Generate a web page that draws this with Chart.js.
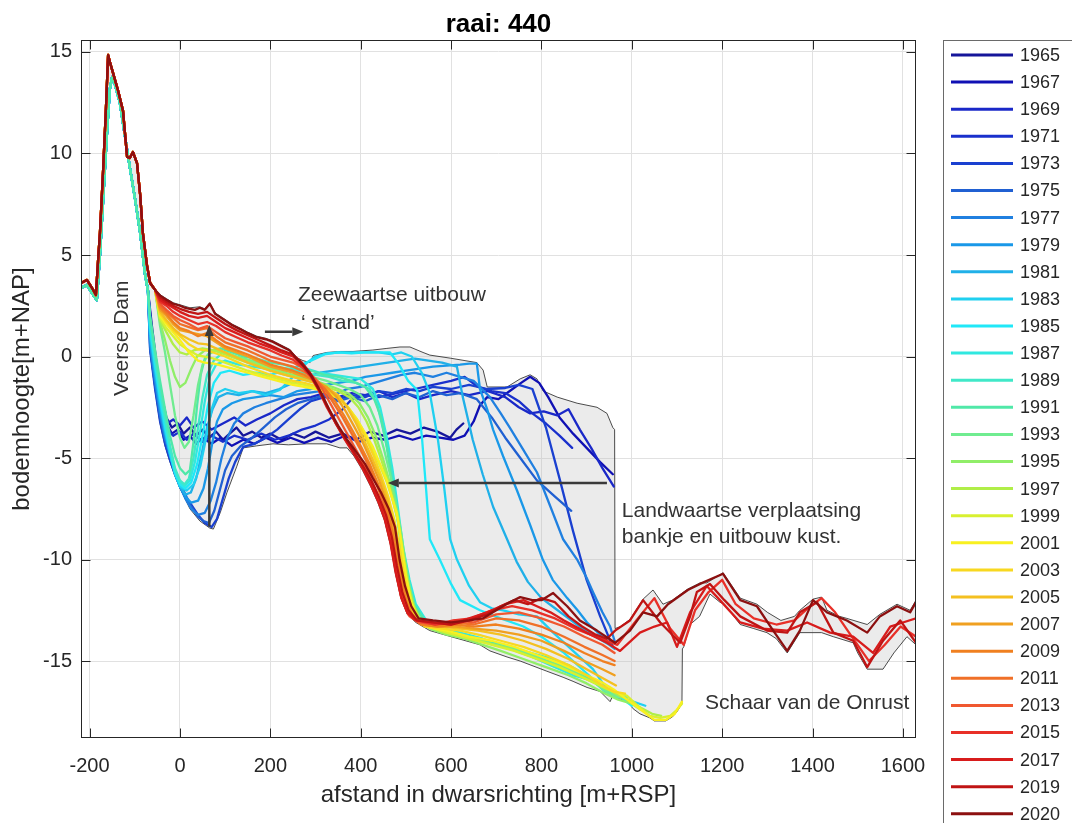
<!DOCTYPE html>
<html>
<head>
  <meta http-equiv="Content-Type" content="text/html" charset="UTF-8" />
  <title>raai: 440</title>
  <script src="https://cdn.jsdelivr.net/npm/chart.js"></script>
  <style>
    body { margin: 0; background: #fff; }
    #wrap { width: 1072px; height: 823px; }
  </style>
</head>
<body>
  <div id="wrap"><canvas id="chart" width="1072" height="823"></canvas></div>

  <script>
    // --- data: [afstand m+RSP, bodemhoogte m+NAP] ---
    const years = [1965, 1967, 1969, 1971, 1973, 1975, 1977, 1979, 1981, 1983, 1985, 1987, 1989, 1991,
                   1993, 1995, 1997, 1999, 2001, 2003, 2005, 2007, 2009, 2011, 2013, 2015, 2017, 2019, 2020];
    const yearColors = ['#16169a', '#1010b4', '#1a28c8', '#1a30cc', '#1a40d0', '#2060d2', '#2080e0', '#1a98e8',
                        '#20b0e8', '#20d0f0', '#20e8f8', '#30e8e0', '#40e8c8', '#50e8a8', '#70ec90', '#90ee68',
                        '#b0ee48', '#d8f030', '#f8f020', '#f8d820', '#f4c020', '#f0a020', '#f08020', '#f07028',
                        '#f05830', '#e83028', '#d81c1c', '#c01414', '#8c1010'];

    // dune (Veerse Dam) part, older and newer surveys
    const duneOld = [[-219,3.37],[-206,3.52],[-192,3.03],[-184,2.78],[-177,5.0],[-170,7.7],[-161,11.2],[-155,13.2],[-150,13.77],[-144,13.4],[-133,12.5],[-122,10.9],[-111,9.33],[-99,7.7],[-88,6.08],[-77,4.0],[-71,3.28]];
    const duneNew = [[-219,3.62],[-206,3.77],[-192,3.28],[-186,3.03],[-181,4.8],[-177,6.1],[-170,9.2],[-164,12.1],[-159,14.85],[-155,14.5],[-148,13.96],[-137,13.1],[-126,12.1],[-117,9.83],[-111,9.78],[-104,10.07],[-95,9.53],[-88,7.95],[-82,6.08],[-73,4.5],[-66,3.62],[-55,3.28]];

    const p1965 = [[-62,1.5],[-51,-0.5],[-40,-2.0],[-30,-3.0],[-18,-3.5],[-5,-3.3],[8,-3.8],[22,-3.5],[36,-3.9],[50,-3.6],[65,-4.0],[80,-3.7],[95,-4.1],[110,-3.8],[125,-3.5],[140,-3.9],[160,-3.7],[180,-4.0],[200,-3.8],[225,-4.1],[250,-3.8],[275,-4.0],[300,-3.7],[330,-4.0],[360,-3.8],[390,-4.1],[420,-3.7],[450,-3.9],[480,-3.6],[510,-3.8],[540,-3.5],[570,-3.7],[598,-4.0],[612,-3.6],[627,-3.3]];
    const p1967 = [[-62,1.2],[-51,-1.0],[-40,-2.5],[-30,-3.3],[-18,-3.8],[-5,-3.6],[8,-4.1],[22,-3.9],[36,-4.3],[50,-4.0],[70,-4.3],[90,-4.0],[115,-4.4],[140,-4.1],[165,-4.3],[190,-4.0],[215,-4.25],[245,-4.0],[275,-4.25],[305,-4.0],[335,-4.2],[365,-3.9],[395,-4.2],[425,-4.0],[455,-4.1],[485,-3.9],[515,-4.1],[545,-3.9],[575,-4.0],[605,-4.1],[630,-3.9],[650,-3.2],[664,-2.4],[680,-2.0],[705,-2.1],[730,-1.7],[755,-1.3],[775,-1.0],[795,-1.3],[815,-2.0],[840,-3.0],[870,-3.8],[900,-4.5],[930,-5.2],[958,-5.8]];
    const p1969 = [[-62,1.0],[-51,-1.2],[-40,-2.6],[-28,-3.3],[-15,-3.1],[0,-3.4],[15,-3.0],[30,-3.5],[50,-3.2],[70,-3.6],[95,-3.3],[120,-3.0],[145,-3.4],[170,-3.1],[200,-2.8],[230,-2.4],[260,-2.1],[290,-2.0],[320,-1.8],[350,-2.0],[380,-1.8],[410,-1.9],[440,-1.7],[470,-2.0],[500,-1.8],[530,-2.1],[560,-1.9],[600,-1.7],[640,-1.9],[680,-1.7],[720,-2.0],[750,-2.5],[775,-2.8],[805,-2.7],[835,-2.9],[860,-2.6],[885,-3.6],[910,-4.5],[935,-5.5],[960,-6.4]];
    const p1971 = [[-62,0.7],[-51,-1.5],[-40,-2.9],[-28,-3.6],[-15,-3.9],[0,-3.7],[15,-4.1],[30,-3.8],[50,-4.2],[70,-3.9],[95,-4.2],[120,-3.9],[150,-4.1],[180,-3.8],[210,-4.1],[240,-3.9],[270,-3.6],[300,-3.4],[330,-3.1],[360,-2.6],[380,-2.1],[410,-1.9],[440,-2.0],[480,-1.8],[520,-1.6],[560,-1.4],[600,-1.2],[630,-1.0],[660,-1.5],[690,-1.7],[720,-1.8],[750,-2.2],[780,-2.8],[810,-3.3],[840,-3.9],[868,-4.5]];
    const p1973 = [[-66,0.3],[-55,-1.6],[-44,-3.2],[-33,-4.3],[-22,-5.1],[-11,-5.8],[0,-6.4],[12,-6.9],[25,-7.3],[40,-7.8],[55,-8.2],[70,-8.4],[82,-8.0],[95,-7.0],[108,-6.0],[122,-5.2],[140,-4.45],[165,-4.3],[190,-4.0],[215,-3.6],[240,-3.1],[265,-2.6],[290,-2.2],[320,-2.0],[350,-2.1],[380,-1.9],[410,-2.0],[440,-1.7],[470,-1.8],[500,-1.6],[530,-1.7],[560,-1.5],[600,-1.6],[640,-1.4],[680,-1.6],[720,-1.55],[750,-1.4],[780,-1.6],[810,-3.5],[840,-6.0],[870,-8.6],[900,-11.0],[930,-12.8],[958,-14.3]];
    const p1975 = [[-66,0.4],[-55,-1.4],[-44,-3.0],[-33,-4.1],[-22,-4.9],[-11,-5.6],[0,-6.2],[12,-6.8],[25,-7.4],[40,-7.9],[52,-8.1],[64,-8.2],[76,-7.6],[88,-6.6],[100,-5.6],[115,-4.9],[135,-4.4],[160,-4.0],[185,-3.5],[210,-3.0],[235,-2.6],[260,-2.3],[290,-2.1],[320,-1.9],[350,-2.2],[380,-2.0],[410,-2.2],[440,-1.9],[470,-2.1],[500,-1.8],[530,-2.0],[560,-1.7],[590,-1.9],[620,-1.8],[657,-2.1],[690,-3.0],[720,-4.0],[750,-4.9],[790,-6.1],[830,-6.9],[866,-7.6]];
    const p1977 = [[-66,0.6],[-55,-1.2],[-44,-2.8],[-33,-4.0],[-22,-4.9],[-11,-5.7],[0,-6.4],[12,-7.0],[25,-7.5],[40,-7.8],[55,-7.7],[68,-7.1],[80,-6.2],[92,-5.0],[105,-4.0],[120,-3.3],[140,-2.8],[165,-2.5],[190,-2.3],[220,-2.1],[250,-1.9],[280,-1.8],[310,-1.7],[340,-1.9],[370,-1.6],[400,-1.5],[430,-1.3],[460,-1.1],[490,-0.9],[520,-0.8],[560,-1.0],[590,-0.8],[620,-1.0],[650,-1.2],[686,-2.0],[710,-2.8],[730,-3.5],[760,-4.6],[790,-5.7],[820,-7.4],[848,-9.0],[879,-10.0],[900,-10.9],[914,-11.6],[935,-12.6],[952,-13.3],[962,-14.0]];
    const p1979 = [[-66,0.8],[-55,-1.0],[-44,-2.6],[-33,-3.8],[-22,-4.8],[-11,-5.7],[0,-6.4],[12,-6.9],[25,-7.2],[40,-7.1],[52,-6.5],[62,-5.5],[72,-4.2],[82,-3.2],[95,-2.6],[115,-2.3],[140,-2.1],[170,-2.0],[200,-1.9],[230,-2.0],[260,-1.7],[290,-1.6],[320,-1.4],[350,-1.3],[380,-1.2],[410,-1.0],[440,-0.9],[470,-0.8],[500,-0.7],[530,-0.6],[560,-0.5],[590,-0.45],[620,-0.4],[640,-0.35],[657,-0.35],[664,-1.6],[680,-2.6],[693,-3.6],[715,-4.9],[746,-6.6],[775,-8.3],[803,-10.0],[825,-11.0],[857,-11.9],[880,-12.5],[901,-13.1],[925,-13.6],[945,-14.0],[958,-14.3]];
    const p1981 = [[-66,1.0],[-55,-0.8],[-44,-2.4],[-33,-3.7],[-22,-4.8],[-11,-5.7],[0,-6.4],[12,-6.8],[24,-6.7],[36,-6.0],[48,-4.8],[60,-3.5],[72,-2.6],[85,-2.0],[105,-1.8],[130,-1.9],[160,-1.7],[190,-1.8],[220,-1.6],[250,-1.3],[280,-1.0],[310,-0.8],[340,-0.7],[370,-0.6],[400,-0.5],[430,-0.4],[460,-0.3],[490,-0.2],[520,-0.1],[550,-0.2],[580,-0.3],[613,-0.5],[626,-2.0],[648,-4.1],[670,-5.8],[693,-7.4],[724,-9.0],[745,-10.1],[770,-11.1],[800,-11.9],[830,-12.4],[860,-12.9],[890,-13.4],[920,-13.8],[950,-14.2],[962,-14.4]];
    const p1983 = [[-66,1.2],[-55,-0.6],[-44,-2.2],[-33,-3.6],[-22,-4.8],[-11,-5.8],[0,-6.4],[15,-6.6],[30,-6.3],[45,-5.4],[58,-4.0],[70,-2.6],[82,-1.8],[100,-1.6],[130,-1.8],[160,-1.7],[190,-1.9],[221,-1.65],[250,-1.0],[281,-0.3],[300,0.0],[325,0.15],[360,0.2],[400,0.2],[440,0.2],[470,0.1],[490,0.2],[513,0.0],[535,-0.8],[553,-1.8],[571,-4.1],[585,-6.5],[598,-9.0],[613,-10.0],[640,-11.3],[664,-12.1],[690,-12.4],[715,-12.5],[750,-12.7],[790,-12.8],[826,-13.6],[870,-14.5],[914,-15.4],[952,-16.6],[990,-16.9],[1030,-17.2]];
    const p1985 = [[-66,1.4],[-55,-0.4],[-44,-2.0],[-33,-3.4],[-22,-4.6],[-11,-5.7],[0,-6.3],[12,-6.5],[25,-6.2],[38,-5.3],[50,-3.9],[62,-2.4],[75,-1.3],[90,-0.8],[110,-0.7],[140,-0.9],[170,-0.8],[200,-0.9],[230,-0.7],[260,-0.5],[290,-0.2],[320,0.1],[350,0.2],[380,0.15],[410,0.2],[440,0.2],[465,0.2],[485,-0.4],[505,-1.2],[525,-1.65],[536,-4.1],[545,-6.6],[553,-9.0],[575,-10.0],[600,-11.2],[620,-12.0],[664,-12.5],[710,-12.9],[760,-13.3],[800,-13.8],[850,-14.6],[900,-15.6],[940,-16.4],[970,-16.7],[1000,-17.2]];
    const p1987 = [[-66,1.6],[-55,-0.2],[-44,-1.8],[-33,-3.2],[-22,-4.5],[-11,-5.6],[0,-6.2],[10,-6.4],[22,-6.1],[33,-5.2],[44,-3.8],[55,-2.2],[66,-1.0],[80,-0.4],[100,-0.2],[130,-0.4],[160,-0.5],[190,-0.6],[220,-0.6],[250,-0.7],[280,-0.6],[310,-0.8],[340,-0.9],[370,-1.0],[400,-1.1],[427,-1.6],[443,-2.5],[458,-4.0],[470,-5.5],[482,-7.4],[494,-9.4],[508,-11.0],[522,-12.2],[545,-13.0],[580,-13.4],[620,-13.6],[670,-13.9],[720,-14.3],[770,-14.7],[820,-15.2],[870,-15.7],[920,-16.0],[960,-16.6],[990,-16.8]];
    const p1989 = [[-66,1.8],[-55,0.0],[-44,-1.6],[-33,-3.0],[-22,-4.4],[-11,-5.5],[0,-6.1],[10,-6.3],[20,-6.0],[30,-5.0],[40,-3.5],[50,-2.0],[60,-0.9],[75,-0.2],[95,0.2],[120,0.0],[150,-0.2],[180,-0.4],[210,-0.5],[240,-0.6],[270,-0.8],[300,-0.9],[330,-1.0],[360,-1.2],[390,-1.3],[420,-1.6],[437,-2.4],[452,-3.8],[465,-5.2],[477,-7.0],[489,-9.0],[502,-10.8],[516,-12.1],[540,-13.0],[570,-13.3],[610,-13.6],[660,-13.9],[710,-14.2],[760,-14.5],[810,-14.8],[860,-15.2],[900,-15.7],[940,-16.5],[970,-16.8]];
    const p1991 = [[-66,2.0],[-55,0.3],[-44,-1.2],[-33,-2.6],[-22,-3.9],[-11,-4.9],[0,-5.5],[12,-5.8],[22,-5.6],[30,-4.2],[38,-2.4],[46,-0.9],[55,-0.1],[70,0.3],[90,0.4],[115,0.2],[140,0.0],[170,-0.1],[200,-0.3],[230,-0.4],[260,-0.6],[290,-0.7],[320,-0.9],[350,-1.0],[380,-1.2],[410,-1.5],[430,-2.1],[445,-3.0],[458,-4.5],[468,-6.0],[480,-7.8],[492,-9.7],[505,-11.2],[520,-12.3],[545,-13.1],[580,-13.4],[620,-13.7],[670,-14.0],[720,-14.3],[770,-14.6],[820,-14.9],[870,-15.4],[910,-15.9],[950,-16.6]];
    const p1993 = [[-44,1.5],[-33,0.2],[-22,-1.4],[-11,-2.9],[0,-4.0],[10,-4.5],[20,-4.2],[30,-2.9],[40,-1.4],[50,-0.4],[62,0.1],[80,0.3],[100,0.2],[125,0.0],[150,-0.15],[175,-0.3],[200,-0.45],[225,-0.6],[250,-0.75],[275,-0.9],[300,-1.05],[325,-1.2],[350,-1.4],[375,-1.6],[400,-1.9],[420,-2.5],[437,-3.4],[452,-4.6],[466,-5.9],[478,-7.2],[489,-8.6],[499,-10.1],[509,-11.4],[520,-12.4],[536,-13.1],[556,-13.4],[580,-13.6],[620,-13.8],[660,-14.0],[700,-14.2],[740,-14.4],[790,-14.8],[840,-15.2],[880,-15.6],[920,-16.1],[950,-16.6],[975,-16.8]];
    const p1995 = [[-44,1.7],[-33,0.8],[-22,-0.2],[-11,-1.0],[0,-1.5],[12,-1.3],[25,-0.6],[38,0.0],[55,0.3],[75,0.3],[100,0.2],[125,0.0],[150,-0.2],[175,-0.4],[200,-0.6],[225,-0.75],[250,-0.9],[275,-1.05],[300,-1.2],[325,-1.4],[350,-1.6],[375,-1.85],[397,-2.3],[416,-3.0],[433,-3.9],[449,-5.0],[463,-6.1],[476,-7.3],[487,-8.5],[497,-10.0],[507,-11.3],[518,-12.3],[533,-13.0],[553,-13.4],[590,-13.7],[630,-13.9],[670,-14.2],[710,-14.5],[760,-14.9],[810,-15.3],[860,-15.7],[900,-16.1],[940,-16.6],[970,-16.9],[1000,-17.1],[1020,-17.4]];
    const p1997 = [[-44,1.8],[-30,1.2],[-15,0.6],[0,0.2],[15,0.1],[30,0.3],[50,0.4],[75,0.3],[100,0.1],[125,-0.1],[150,-0.3],[175,-0.5],[200,-0.7],[225,-0.85],[250,-1.0],[275,-1.15],[300,-1.3],[325,-1.5],[350,-1.7],[375,-2.0],[395,-2.5],[413,-3.2],[430,-4.1],[446,-5.1],[460,-6.1],[473,-7.2],[484,-8.3],[494,-9.8],[504,-11.2],[515,-12.2],[530,-12.9],[550,-13.3],[590,-13.6],[630,-13.8],[680,-14.1],[730,-14.4],[780,-14.8],[830,-15.2],[880,-15.7],[920,-16.1],[955,-16.5],[990,-16.9],[1020,-17.3],[1045,-17.6],[1065,-17.7]];
    const p1999 = [[-44,1.9],[-30,1.4],[-15,1.0],[0,0.6],[20,0.3],[40,0.05],[55,0.0],[75,-0.1],[100,-0.3],[125,-0.5],[150,-0.7],[175,-0.85],[200,-1.0],[225,-1.15],[250,-1.3],[275,-1.4],[300,-1.55],[325,-1.75],[350,-2.0],[372,-2.5],[392,-3.1],[410,-3.8],[427,-4.6],[443,-5.4],[458,-6.2],[471,-7.1],[482,-8.0],[492,-9.5],[502,-11.0],[513,-12.1],[528,-12.9],[548,-13.3],[590,-13.6],[640,-13.9],[690,-14.2],[740,-14.5],[790,-14.9],[840,-15.3],[890,-15.8],[930,-16.2],[958,-16.5],[989,-16.7],[1018,-17.3],[1040,-17.7],[1063,-17.8],[1085,-17.7],[1100,-17.4],[1111,-17.1]];
    const p2001 = [[-44,2.0],[-30,1.6],[-15,1.2],[0,0.8],[20,0.2],[40,-0.2],[55,-0.3],[75,-0.35],[100,-0.5],[125,-0.65],[150,-0.8],[175,-0.95],[200,-1.1],[225,-1.25],[250,-1.4],[275,-1.5],[300,-1.6],[325,-1.8],[354,-2.1],[375,-2.6],[392,-3.1],[410,-3.8],[427,-4.45],[443,-5.3],[458,-6.1],[470,-7.0],[480,-7.7],[490,-9.2],[500,-10.8],[511,-12.0],[525,-12.9],[545,-13.3],[590,-13.5],[640,-13.8],[690,-14.0],[740,-14.3],[790,-14.7],[840,-15.1],[890,-15.6],[930,-16.0],[960,-16.4],[990,-16.9],[1020,-17.4],[1050,-17.9],[1075,-17.9],[1095,-17.6],[1111,-17.0]];
    const p2003 = [[-44,2.1],[-30,1.7],[-15,1.3],[0,1.0],[20,0.6],[40,0.35],[60,0.3],[80,0.15],[100,0.0],[125,-0.25],[150,-0.5],[175,-0.7],[200,-0.9],[225,-1.05],[250,-1.2],[275,-1.3],[300,-1.45],[325,-1.65],[350,-1.95],[372,-2.5],[392,-3.2],[411,-4.0],[429,-4.9],[446,-5.9],[461,-6.9],[474,-8.0],[486,-9.4],[497,-10.9],[508,-12.1],[522,-12.9],[542,-13.3],[580,-13.4],[620,-13.5],[660,-13.7],[710,-14.0],[760,-14.3],[810,-14.7],[860,-15.2],[900,-15.7],[935,-16.2],[960,-16.5],[985,-16.6]];
    const p2005 = [[-44,2.2],[-30,1.8],[-15,1.4],[0,1.1],[20,0.85],[40,0.65],[60,0.6],[80,0.4],[100,0.2],[125,-0.05],[150,-0.3],[175,-0.5],[200,-0.7],[225,-0.85],[250,-1.0],[275,-1.15],[300,-1.3],[325,-1.55],[350,-1.9],[370,-2.5],[390,-3.3],[409,-4.2],[427,-5.1],[444,-6.0],[459,-7.0],[472,-8.2],[484,-9.6],[495,-11.0],[506,-12.2],[520,-12.9],[540,-13.2],[580,-13.3],[620,-13.4],[660,-13.5],[710,-13.7],[760,-14.0],[810,-14.4],[860,-14.9],[900,-15.4],[940,-15.9],[965,-16.2]];
    const p2007 = [[-44,2.3],[-30,2.0],[-15,1.6],[0,1.3],[20,1.2],[40,1.1],[60,1.0],[80,0.7],[100,0.4],[125,0.2],[150,0.0],[175,-0.25],[200,-0.5],[225,-0.65],[250,-0.8],[275,-1.0],[300,-1.2],[325,-1.5],[347,-2.0],[367,-2.7],[387,-3.5],[406,-4.3],[424,-5.2],[441,-6.1],[456,-7.1],[469,-8.2],[481,-9.6],[492,-11.0],[503,-12.1],[517,-12.9],[536,-13.2],[570,-13.3],[610,-13.3],[650,-13.4],[700,-13.5],[750,-13.7],[800,-14.0],[850,-14.5],[895,-15.0],[935,-15.4],[962,-15.7]];
    const p2009 = [[-44,2.4],[-30,2.1],[-15,1.7],[0,1.4],[20,1.25],[40,1.0],[60,1.15],[80,0.8],[100,0.5],[125,0.3],[150,0.1],[175,-0.15],[200,-0.4],[225,-0.55],[250,-0.7],[275,-0.9],[300,-1.2],[322,-1.6],[343,-2.2],[363,-2.9],[383,-3.7],[402,-4.5],[420,-5.3],[437,-6.2],[452,-7.1],[466,-8.2],[478,-9.5],[489,-10.9],[500,-12.0],[514,-12.8],[533,-13.2],[570,-13.3],[610,-13.2],[650,-13.3],[700,-13.2],[750,-13.4],[800,-13.7],[850,-14.1],[895,-14.6],[935,-15.0],[962,-15.2]];
    const p2011 = [[-44,2.5],[-30,2.2],[-15,1.9],[0,1.6],[20,1.45],[40,1.3],[60,1.4],[80,1.0],[100,0.7],[125,0.5],[150,0.3],[175,0.05],[200,-0.2],[225,-0.35],[250,-0.5],[275,-0.75],[300,-1.1],[320,-1.6],[340,-2.3],[360,-3.0],[380,-3.8],[400,-4.6],[418,-5.4],[435,-6.3],[450,-7.2],[463,-8.3],[475,-9.6],[486,-11.0],[497,-12.1],[511,-12.8],[530,-13.1],[570,-13.2],[610,-13.1],[650,-13.2],[700,-12.9],[750,-13.0],[800,-13.3],[850,-13.8],[895,-14.3],[935,-14.7],[962,-15.0]];
    const p2013 = [[-44,2.6],[-30,2.3],[-15,2.0],[0,1.8],[20,1.6],[40,1.35],[60,1.5],[80,1.2],[100,0.9],[125,0.7],[150,0.5],[175,0.25],[200,0.0],[225,-0.15],[250,-0.3],[275,-0.6],[295,-1.0],[315,-1.6],[335,-2.4],[355,-3.2],[375,-4.0],[395,-4.8],[413,-5.6],[430,-6.4],[446,-7.3],[460,-8.4],[472,-9.7],[483,-11.0],[494,-12.1],[508,-12.8],[528,-13.1],[570,-13.2],[610,-13.0],[650,-13.1],[700,-12.7],[750,-12.6],[800,-12.9],[850,-13.3],[895,-13.8],[935,-14.2],[962,-14.6]];
    const p2015 = [[-44,2.7],[-30,2.5],[-15,2.2],[0,2.0],[20,1.8],[40,1.6],[60,1.7],[80,1.5],[100,1.2],[125,0.95],[150,0.7],[175,0.5],[200,0.3],[225,0.05],[250,-0.15],[270,-0.5],[290,-1.0],[308,-1.7],[327,-2.5],[346,-3.3],[366,-4.1],[386,-4.8],[405,-5.5],[423,-6.3],[440,-7.1],[455,-8.1],[468,-9.3],[479,-10.7],[490,-11.9],[505,-12.7],[524,-13.0],[565,-13.2],[605,-13.0],[645,-12.9],[690,-12.5],[735,-12.3],[780,-12.5],[830,-12.9],[875,-13.4],[920,-13.8],[968,-14.2],[1010,-13.0],[1050,-11.9],[1085,-13.4],[1115,-14.2],[1140,-12.5],[1170,-11.6],[1200,-11.0],[1230,-12.2],[1270,-12.9],[1320,-13.2],[1360,-13.0],[1390,-12.4],[1420,-11.9],[1450,-12.6],[1490,-13.9],[1525,-15.0],[1560,-14.2],[1595,-13.3],[1629,-13.8]];
    const p2017 = [[-44,2.8],[-30,2.6],[-15,2.4],[0,2.2],[20,2.0],[40,1.9],[60,2.0],[80,1.7],[100,1.4],[125,1.15],[150,0.9],[175,0.65],[200,0.45],[225,0.2],[250,0.0],[270,-0.4],[288,-0.9],[306,-1.6],[325,-2.5],[345,-3.3],[365,-4.1],[385,-4.8],[404,-5.5],[422,-6.3],[438,-7.1],[453,-8.0],[466,-9.2],[477,-10.6],[489,-11.8],[503,-12.6],[522,-13.0],[560,-13.1],[600,-13.2],[640,-12.9],[680,-12.6],[720,-12.2],[760,-12.0],[790,-12.3],[820,-12.6],[850,-13.0],[900,-13.6],[945,-14.1],[974,-14.5],[1018,-13.6],[1050,-13.3],[1078,-13.1],[1100,-14.3],[1129,-12.6],[1166,-11.3],[1195,-12.0],[1240,-13.1],[1290,-13.4],[1344,-13.5],[1388,-13.1],[1439,-13.6],[1490,-13.8],[1534,-14.6],[1572,-13.3],[1600,-13.1],[1629,-12.9]];
    const p2019 = [[-44,2.9],[-30,2.7],[-15,2.5],[0,2.35],[20,2.2],[40,2.1],[60,2.2],[80,1.9],[100,1.6],[125,1.3],[150,1.05],[175,0.8],[200,0.55],[225,0.3],[250,0.1],[270,-0.3],[288,-0.8],[306,-1.5],[325,-2.4],[345,-3.3],[365,-4.0],[385,-4.7],[405,-5.4],[423,-6.1],[440,-6.9],[456,-7.8],[469,-8.9],[480,-10.3],[492,-11.6],[506,-12.5],[525,-13.0],[560,-13.1],[600,-13.2],[640,-13.0],[680,-12.7],[710,-12.3],[740,-12.0],[770,-12.2],[800,-11.9],[830,-12.1],[860,-12.8],[890,-13.3],[920,-13.7],[945,-13.9],[963,-13.5],[996,-13.0],[1025,-12.0],[1063,-13.1],[1107,-14.1],[1129,-12.8],[1144,-11.6],[1173,-11.2],[1205,-12.0],[1240,-12.8],[1299,-13.5],[1344,-13.6],[1372,-12.6],[1410,-12.1],[1446,-13.6],[1490,-14.0],[1521,-15.3],[1556,-14.0],[1594,-13.0],[1629,-14.1]];
    const p2020 = [[-44,3.0],[-30,2.8],[-15,2.6],[0,2.5],[11,2.4],[22,2.35],[33,2.3],[44,2.4],[55,2.3],[66,2.6],[78,2.1],[95,1.85],[115,1.55],[133,1.35],[150,1.15],[170,0.95],[190,0.85],[206,0.72],[225,0.5],[243,0.3],[258,-0.1],[275,-0.5],[292,-1.0],[310,-1.7],[330,-2.6],[350,-3.4],[370,-4.1],[390,-4.7],[410,-5.3],[427,-6.0],[445,-6.7],[462,-7.5],[476,-8.4],[486,-10.0],[498,-11.3],[512,-12.3],[528,-12.9],[560,-13.0],[600,-13.1],[640,-13.0],[670,-12.9],[700,-12.5],[730,-12.1],[753,-11.85],[780,-12.0],[800,-12.0],[826,-11.65],[857,-12.3],[885,-13.0],[923,-13.5],[963,-14.1],[996,-13.5],[1025,-12.6],[1056,-12.8],[1080,-12.2],[1124,-11.5],[1151,-11.2],[1202,-10.7],[1240,-12.0],[1277,-12.3],[1310,-13.4],[1344,-14.5],[1372,-13.5],[1401,-12.0],[1432,-12.6],[1476,-13.0],[1521,-13.6],[1549,-12.8],[1587,-12.3],[1616,-12.6],[1629,-12.1]];

    const profiles = [p1965, p1967, p1969, p1971, p1973, p1975, p1977, p1979, p1981, p1983, p1985, p1987, p1989, p1991,
                      p1993, p1995, p1997, p1999, p2001, p2003, p2005, p2007, p2009, p2011, p2013, p2015, p2017, p2019, p2020];

    // grey band: highest and lowest bed level of all surveys
    const envUpper = [[-219,3.65],[-206,3.8],[-192,3.3],[-186,3.05],[-181,4.8],[-177,6.1],[-170,9.2],[-164,12.1],[-159,14.9],[-155,14.5],[-148,14.0],[-137,13.1],[-126,12.1],[-117,9.85],[-111,9.8],[-104,10.1],[-95,9.55],[-88,7.95],[-82,6.1],[-73,4.5],[-66,3.62],[-55,3.3],[-44,3.05],[-30,2.85],[-15,2.65],[0,2.55],[22,2.4],[44,2.45],[55,2.35],[66,2.65],[78,2.15],[95,1.9],[115,1.6],[133,1.4],[150,1.2],[170,1.0],[190,0.9],[206,0.77],[225,0.55],[243,0.35],[258,-0.05],[272,-0.2],[288,-0.3],[295,0.05],[325,0.2],[355,0.25],[383,0.25],[427,0.32],[458,0.4],[487,0.47],[509,0.47],[538,0.2],[553,0.07],[598,-0.08],[657,-0.3],[671,-0.67],[680,-1.5],[724,-1.5],[753,-1.1],[775,-0.9],[790,-1.1],[804,-1.7],[835,-2.0],[879,-2.3],[923,-2.5],[945,-2.8],[958,-3.5],[962,-3.6],[963,-13.4],[975,-13.3],[996,-12.95],[1025,-11.95],[1047,-11.5],[1069,-12.2],[1090,-12.0],[1124,-11.45],[1151,-11.15],[1166,-11.15],[1202,-10.65],[1240,-11.9],[1277,-12.2],[1300,-12.6],[1330,-13.0],[1360,-12.8],[1372,-12.5],[1401,-11.95],[1420,-11.85],[1432,-12.5],[1460,-12.8],[1476,-12.9],[1521,-13.2],[1549,-12.7],[1587,-12.2],[1616,-12.5],[1629,-12.0]];
    const envLower = [[1629,-14.2],[1609,-13.8],[1580,-14.6],[1556,-15.4],[1521,-15.4],[1500,-14.6],[1490,-14.1],[1446,-13.8],[1420,-13.6],[1401,-13.6],[1372,-13.6],[1344,-14.6],[1320,-13.9],[1299,-13.6],[1270,-13.4],[1240,-13.2],[1205,-12.2],[1195,-12.1],[1173,-11.7],[1150,-12.8],[1129,-13.2],[1115,-14.3],[1112,-14.4],[1111,-17.1],[1100,-17.5],[1090,-17.75],[1075,-17.95],[1050,-17.95],[1040,-17.8],[1018,-17.6],[1003,-17.35],[989,-16.95],[970,-16.85],[958,-16.7],[952,-17.0],[930,-16.5],[901,-16.3],[870,-16.0],[848,-15.8],[812,-15.5],[753,-15.0],[724,-14.8],[686,-14.5],[664,-14.2],[600,-13.8],[553,-13.5],[522,-13.1],[503,-12.7],[489,-11.9],[477,-10.7],[466,-9.3],[453,-8.1],[438,-7.2],[422,-6.4],[404,-5.6],[385,-4.9],[370,-4.5],[354,-4.5],[325,-4.3],[281,-4.3],[240,-4.35],[206,-4.3],[170,-4.4],[140,-4.5],[126,-5.4],[104,-6.7],[89,-7.7],[74,-8.5],[66,-8.45],[44,-8.1],[22,-7.5],[7,-6.8],[0,-6.5],[-11,-5.9],[-22,-5.2],[-33,-4.4],[-44,-3.3],[-55,-1.7],[-66,0.2],[-71,3.2],[-77,3.95],[-88,6.0],[-99,7.6],[-111,9.25],[-122,10.85],[-133,12.45],[-144,13.35],[-150,13.7],[-155,13.15],[-161,11.15],[-170,7.65],[-177,4.95],[-184,2.72],[-192,2.98],[-206,3.47],[-219,3.32]];

    // annotations, anchored in data units
    const notes = [
      { text: 'Zeewaartse uitbouw', x: 261, y: 3.03 },
      { text: '\u2018 strand\u2019', x: 268, y: 1.66 },
      { text: 'Landwaartse verplaatsing', x: 978, y: -7.61 },
      { text: 'bankje en uitbouw kust.', x: 978, y: -8.89 },
      { text: 'Schaar van de Onrust', x: 1162, y: -17.07 }
    ];
    const damLabel = { text: 'Veerse Dam', x: -128, y: 0.9 };
    const arrows = [
      { from: [65, -8.38], to: [65, 1.55] },
      { from: [188, 1.22], to: [273, 1.22] },
      { from: [945, -6.23], to: [460, -6.23] }
    ];

    const FONT = '"Liberation Sans", Arial, Helvetica, sans-serif';
    const toXY = pts => pts.map(p => ({ x: p[0], y: p[1] }));

    const datasets = [{
      label: 'envelope',
      data: toXY(envUpper.concat(envLower)),
      borderColor: '#202020',
      borderWidth: 0.8,
      backgroundColor: 'rgba(190,190,190,0.30)',
      fill: 'shape',
      order: 100
    }];
    years.forEach((yr, i) => {
      const dune = yr <= 1991 ? duneOld : duneNew;
      datasets.push({
        label: String(yr),
        data: toXY(dune.concat(profiles[i])),
        borderColor: yearColors[i],
        borderWidth: 2.3,
        fill: false,
        order: 50 - i
      });
    });

    function arrow(ctx, x1, y1, x2, y2) {
      const ang = Math.atan2(y2 - y1, x2 - x1);
      const hl = 11, hw = 4.5;
      const bx = x2 - hl * Math.cos(ang), by = y2 - hl * Math.sin(ang);
      ctx.beginPath();
      ctx.moveTo(x1, y1);
      ctx.lineTo(bx, by);
      ctx.stroke();
      ctx.beginPath();
      ctx.moveTo(x2, y2);
      ctx.lineTo(bx + hw * Math.sin(ang), by - hw * Math.cos(ang));
      ctx.lineTo(bx - hw * Math.sin(ang), by + hw * Math.cos(ang));
      ctx.closePath();
      ctx.fill();
    }

    const decor = {
      id: 'decor',
      afterDatasetsDraw(chart) {
        const { ctx, chartArea: a, scales: { x, y } } = chart;
        ctx.save();
        ctx.strokeStyle = '#3a3a3a';
        ctx.fillStyle = '#3a3a3a';
        ctx.lineWidth = 2.5;
        arrows.forEach(ar => arrow(ctx,
          x.getPixelForValue(ar.from[0]), y.getPixelForValue(ar.from[1]),
          x.getPixelForValue(ar.to[0]), y.getPixelForValue(ar.to[1])));

        ctx.fillStyle = '#333333';
        ctx.font = '21px ' + FONT;
        ctx.textAlign = 'left';
        ctx.textBaseline = 'middle';
        notes.forEach(n => ctx.fillText(n.text, x.getPixelForValue(n.x), y.getPixelForValue(n.y)));
        ctx.save();
        ctx.translate(x.getPixelForValue(damLabel.x), y.getPixelForValue(damLabel.y));
        ctx.rotate(-Math.PI / 2);
        ctx.textAlign = 'center';
        ctx.fillText(damLabel.text, 0, 0);
        ctx.restore();

        // axes box with inward ticks on all four sides
        ctx.strokeStyle = '#262626';
        ctx.lineWidth = 1;
        const L = Math.round(a.left) + 0.5, R = Math.round(a.right) - 0.5;
        const T = Math.round(a.top) + 0.5, B = Math.round(a.bottom) - 0.5;
        ctx.strokeRect(L, T, R - L, B - T);
        ctx.beginPath();
        x.ticks.forEach(t => {
          const px = Math.round(x.getPixelForValue(t.value)) + 0.5;
          ctx.moveTo(px, B); ctx.lineTo(px, B - 9);
          ctx.moveTo(px, T); ctx.lineTo(px, T + 9);
        });
        y.ticks.forEach(t => {
          const py = Math.round(y.getPixelForValue(t.value)) + 0.5;
          ctx.moveTo(L, py); ctx.lineTo(L + 9, py);
          ctx.moveTo(R, py); ctx.lineTo(R - 9, py);
        });
        ctx.stroke();
        ctx.restore();
      },
      afterDraw(chart) {
        const { ctx, chartArea: a } = chart;
        ctx.save();
        ctx.textAlign = 'center';
        ctx.textBaseline = 'middle';
        ctx.fillStyle = '#000000';
        ctx.font = 'bold 26px ' + FONT;
        ctx.fillText('raai: 440', (a.left + a.right) / 2, a.top - 15);

        ctx.fillStyle = '#262626';
        ctx.font = '24px ' + FONT;
        ctx.fillText('afstand in dwarsrichting [m+RSP]', (a.left + a.right) / 2, a.bottom + 57);
        ctx.save();
        ctx.translate(22, (a.top + a.bottom) / 2);
        ctx.rotate(-Math.PI / 2);
        ctx.fillText('bodemhoogte[m+NAP]', 0, 0);
        ctx.restore();

        // legend box on the right
        const lx = Math.round(a.right) + 27;
        ctx.strokeStyle = '#6a6a6a';
        ctx.lineWidth = 1;
        ctx.strokeRect(lx + 0.5, Math.round(a.top) + 0.5, 220, 820);
        ctx.font = '18px ' + FONT;
        ctx.textAlign = 'left';
        chart.data.datasets.slice(1).forEach((ds, i) => {
          const ly = a.top + 15 + i * 27.1;
          ctx.strokeStyle = ds.borderColor;
          ctx.lineWidth = 3;
          ctx.beginPath();
          ctx.moveTo(lx + 8, ly);
          ctx.lineTo(lx + 70, ly);
          ctx.stroke();
          ctx.fillStyle = '#262626';
          ctx.fillText(ds.label, lx + 77, ly + 1);
        });
        ctx.restore();
      }
    };

    const ctx = document.getElementById('chart').getContext('2d');
    new Chart(ctx, {
      type: 'line',
      data: { datasets: datasets },
      options: {
        responsive: false,
        devicePixelRatio: 1,
        animation: false,
        layout: { padding: { left: 0, right: 156, top: 40, bottom: 0 } },
        elements: {
          point: { radius: 0 },
          line: { tension: 0, borderJoinStyle: 'round', borderCapStyle: 'round' }
        },
        plugins: { legend: { display: false }, tooltip: { enabled: false }, title: { display: false } },
        scales: {
          x: {
            type: 'linear',
            min: -219,
            max: 1629,
            afterFit: s => { s.height = 85; },
            border: { display: false },
            grid: { color: '#e1e1e1', drawTicks: false },
            ticks: { stepSize: 200, includeBounds: false, padding: 16, color: '#262626', font: { family: FONT, size: 20 }, callback: v => String(v) }
          },
          y: {
            type: 'linear',
            min: -18.79,
            max: 15.59,
            afterFit: s => { s.width = 81; },
            border: { display: false },
            grid: { color: '#e1e1e1', drawTicks: false },
            ticks: { stepSize: 5, includeBounds: false, padding: 9, color: '#262626', font: { family: FONT, size: 20 }, callback: v => String(v) }
          }
        }
      },
      plugins: [decor]
    });
  </script>
</body>
</html>
